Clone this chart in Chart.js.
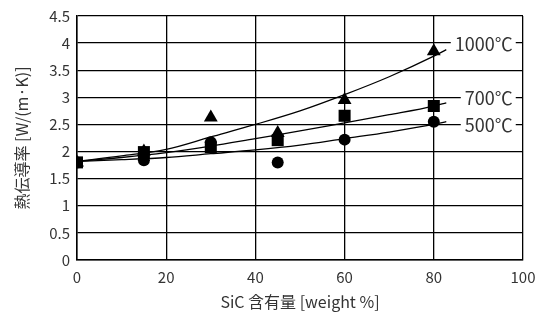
<!DOCTYPE html>
<html>
<head>
<meta charset="utf-8">
<script src="https://cdn.jsdelivr.net/npm/chart.js@4"></script>
<style>
  html, body { margin: 0; padding: 0; background: #fff; }
  #wrap { width: 544px; height: 320px; }
</style>
</head>
<body>
<div id="wrap"><canvas id="chart"></canvas></div>
<script>
// measured points (SiC content vs conductivity)
const sicContent = [0, 15, 30, 45, 60, 80];
const k1000 = [1.8, 2.0, 2.63, 2.34, 2.95, 3.85];
const k700 = [1.8, 1.99, 2.08, 2.21, 2.66, 2.84];
const k500 = [1.8, 1.84, 2.17, 1.8, 2.22, 2.55];

// trend curves
const curveX = [0, 10, 20, 30, 40, 50, 60, 70, 80, 82.8];
const curve1000 = [1.82, 1.92, 2.04, 2.27, 2.5, 2.75, 3.05, 3.38, 3.76, 3.88];
const curve700 = [1.82, 1.89, 1.98, 2.1, 2.24, 2.38, 2.53, 2.68, 2.84, 2.9];
const curve500 = [1.82, 1.85, 1.89, 1.96, 2.03, 2.12, 2.24, 2.36, 2.5, 2.55];

const curveNames = ['1000℃', '700℃', '500℃'];
const curveLabelX = [97.7, 97.7, 97.7];
const curveLabelY = [4, 3, 2.5];

const FONT = '"Noto Sans CJK JP", "Noto Sans", sans-serif';

const toXY = (xs, ys) => xs.map((x, i) => ({ x: x, y: ys[i] }));

function curveSet(ys) {
    return {
        data: toXY(curveX, ys),
        showLine: true,
        borderColor: '#000',
        borderWidth: 1.3,
        pointRadius: 0,
        cubicInterpolationMode: 'monotone',
        order: 5
    };
}

function markerSet(ys, style, r, order) {
    return {
        data: toXY(sicContent, ys),
        showLine: false,
        pointStyle: style,
        pointRadius: r,
        backgroundColor: '#000',
        borderColor: '#000',
        borderWidth: 0,
        order: order
    };
}

// curve names sit on top of the grid with a white box
const curveLabels = {
    id: 'curveLabels',
    afterDatasetsDraw(chart) {
        const ctx = chart.ctx;
        const xs = chart.scales.x, ys = chart.scales.y;
        ctx.save();
        ctx.font = '18px ' + FONT;
        ctx.textAlign = 'right';
        ctx.textBaseline = 'middle';
        curveNames.forEach((name, i) => {
            const px = xs.getPixelForValue(curveLabelX[i]);
            const py = ys.getPixelForValue(curveLabelY[i]);
            const w = ctx.measureText(name).width;
            ctx.fillStyle = '#fff';
            ctx.fillRect(px - w - 4, py - 9, w + 7, 18);
            ctx.fillStyle = '#333';
            ctx.fillText(name, px, py + 1);
        });
        ctx.restore();
    }
};

new Chart(document.getElementById('chart'), {
    type: 'scatter',
    data: {
        datasets: [
            curveSet(curve1000),
            curveSet(curve700),
            curveSet(curve500),
            markerSet(k500, 'circle', 6, 3),
            markerSet(k1000, 'triangle', 8, 2),
            markerSet(k700, 'rect', 8.5, 1)
        ]
    },
    options: {
        responsive: true,
        maintainAspectRatio: false,
        animation: false,
        layout: { padding: { top: 16, right: 21, left: 0, bottom: 0 } },
        plugins: { legend: { display: false }, tooltip: { enabled: false } },
        scales: {
            x: {
                type: 'linear',
                min: 0,
                max: 100,
                grid: { color: '#000', lineWidth: 1.3, drawTicks: false },
                border: { color: '#000', width: 1.5 },
                ticks: { stepSize: 20, padding: 8, color: '#333', font: { family: FONT, size: 15 } },
                title: {
                    display: true,
                    text: 'SiC 含有量 [weight %]',
                    color: '#333',
                    font: { family: FONT, size: 16 },
                    padding: { top: 10, bottom: 8 }
                },
                afterFit(s) { s.height = 60; s.paddingLeft = 0; s.paddingRight = 0; }
            },
            y: {
                min: 0,
                max: 4.5,
                grid: { color: '#000', lineWidth: 1.3, drawTicks: false },
                border: { color: '#000', width: 1.5 },
                ticks: {
                    stepSize: 0.5,
                    padding: 7,
                    color: '#333',
                    font: { family: FONT, size: 15 },
                    callback: value => String(value)
                },
                title: {
                    display: true,
                    text: '熱伝導率 [W/(m·K)]',
                    color: '#333',
                    font: { family: FONT, size: 16 },
                    padding: { top: 12, bottom: 12 }
                },
                afterFit(s) { s.width = 77; s.paddingTop = 0; s.paddingBottom = 0; }
            }
        }
    },
    plugins: [curveLabels]
});
</script>
</body>
</html>
